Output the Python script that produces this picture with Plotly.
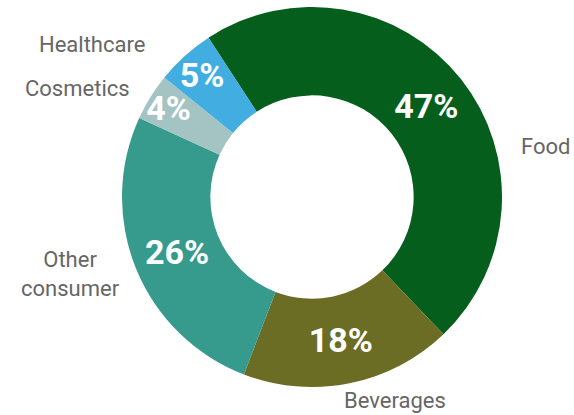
import plotly.graph_objects as go

categories = ["Food", "Beverages", "Other consumer", "Cosmetics", "Healthcare"]
values = [47, 18, 26, 4, 5]
colors = ["#055e1c", "#6a6d23", "#369a8c", "#a4c3c3", "#41ade0"]

# Layout constants (pixel positions of the category labels' centres)
W, H = 574, 415
ML, MR, MT, MB = 100, 50, 7, 28
label_text = ["Food", "Beverages", "Other<br>consumer", "Cosmetics", "Healthcare"]
label_px = [(545, 146), (395, 401), (70, 274), (77, 88), (92, 45)]

fig = go.Figure()
fig.add_trace(go.Pie(
    labels=categories, values=values, sort=False, direction="clockwise",
    rotation=-33, hole=0.535,
    marker=dict(colors=colors, line=dict(width=0)),
    textinfo="percent", texttemplate="%{percent:.0%}",
    textposition="inside", insidetextorientation="horizontal",
    insidetextfont=dict(family="Roboto", size=34, color="white", weight="bold"),
    hoverinfo="label+percent", showlegend=False,
))

pw, ph = W - ML - MR, H - MT - MB
annotations = []
for txt, (px, py) in zip(label_text, label_px):
    annotations.append(dict(
        text=txt, x=(px - ML) / pw, y=(H - MB - py) / ph,
        xref="paper", yref="paper", xanchor="center", yanchor="middle",
        showarrow=False, align="center",
        font=dict(family="Roboto", size=22, color="#666666"),
    ))

fig.update_layout(
    width=W, height=H,
    margin=dict(l=ML, r=MR, t=MT, b=MB),
    paper_bgcolor="white", plot_bgcolor="white",
    uniformtext=dict(minsize=34, mode="show"),
    font=dict(family="Roboto"),
    annotations=annotations,
)
fig.write_html(
    "out.html",
    config={"displayModeBar": False},
    post_script="document.body.style.margin='0';document.body.style.overflow='hidden';",
)
